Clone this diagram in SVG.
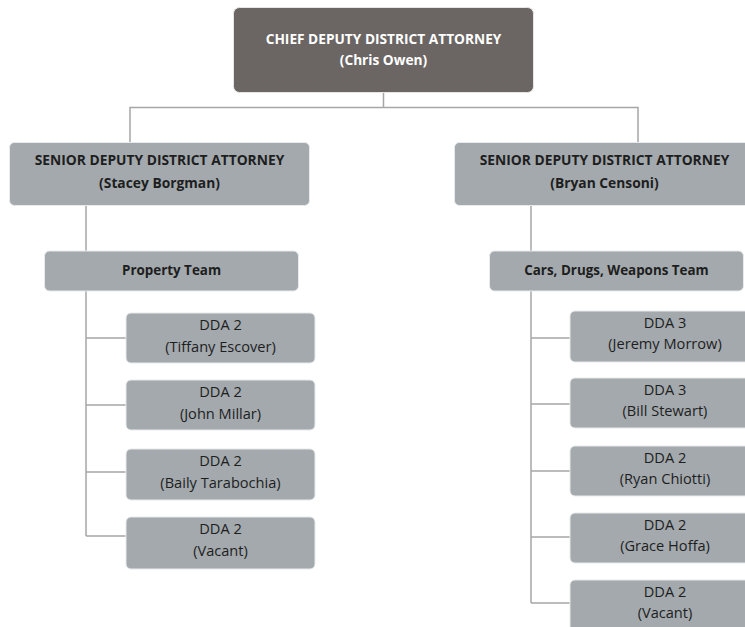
<svg xmlns="http://www.w3.org/2000/svg" width="745" height="627" viewBox="0 0 745 627">
<style>
.bx{fill:#a3a9ad;stroke:#e8eaeb;stroke-width:1}
.top{fill:#6b6664;stroke:#e8e6e5;stroke-width:1}
.ln{fill:none;stroke:#a6a6a6;stroke-width:1.5}
text{font-family:"Open Sans","Liberation Sans",sans-serif;text-anchor:middle}
.h{font-size:13.8px;font-weight:bold;fill:#1e1e1e}
.t{font-size:13.4px;font-weight:bold;fill:#1e1e1e}
.hw{font-size:13.7px;font-weight:bold;fill:#ffffff}
.n{font-size:14.6px;fill:#1e1e1e}
</style>
<rect width="745" height="627" fill="#ffffff"/>
<g id="connectors">
<path class="ln" d="M383.5,92 V107.5 M130,142 V107.5 H638 V142"/>
<path class="ln" d="M86,205 V251 M531,205 V251"/>
<path class="ln" d="M86,291 V536 M86,338 H126 M86,405 H126 M86,472 H126 M86,536 H126"/>
<path class="ln" d="M531,291 V603 M531,338 H570 M531,404 H570 M531,471 H570 M531,537 H570 M531,603 H570"/>
</g>
<g id="chief"><rect class="top" x="233.5" y="7.5" width="300" height="85" rx="6"/><text class="hw" x="383.5" y="44">CHIEF DEPUTY DISTRICT ATTORNEY</text><text class="hw" x="383.5" y="65">(Chris Owen)</text></g>
<g id="senior-left"><rect class="bx" x="9.5" y="142.5" width="300" height="63" rx="5"/><text class="h" x="159.5" y="165">SENIOR DEPUTY DISTRICT ATTORNEY</text><text class="h" x="159.5" y="188">(Stacey Borgman)</text></g>
<g id="senior-right"><rect class="bx" x="454.5" y="142.5" width="300" height="63" rx="5"/><text class="h" x="604.5" y="165">SENIOR DEPUTY DISTRICT ATTORNEY</text><text class="h" x="604.5" y="188">(Bryan Censoni)</text></g>
<g id="property-team"><rect class="bx" x="44.5" y="251" width="254" height="40" rx="5"/><text class="t" x="171.5" y="275">Property Team</text></g>
<g id="cdw-team"><rect class="bx" x="489.5" y="251" width="254" height="40" rx="5"/><text class="t" x="616.5" y="275">Cars, Drugs, Weapons Team</text></g>
<g id="l1"><rect class="bx" x="126" y="313" width="189" height="50" rx="5"/><text class="n" x="220.5" y="330">DDA 2</text><text class="n" x="220.5" y="352">(Tiffany Escover)</text></g>
<g id="l2"><rect class="bx" x="126" y="380" width="189" height="50" rx="5"/><text class="n" x="220.5" y="397">DDA 2</text><text class="n" x="220.5" y="419">(John Millar)</text></g>
<g id="l3"><rect class="bx" x="126" y="449" width="189" height="51" rx="5"/><text class="n" x="220.5" y="466">DDA 2</text><text class="n" x="220.5" y="488">(Baily Tarabochia)</text></g>
<g id="l4"><rect class="bx" x="126" y="517" width="189" height="52" rx="5"/><text class="n" x="220.5" y="534">DDA 2</text><text class="n" x="220.5" y="556">(Vacant)</text></g>
<g id="r1"><rect class="bx" x="570" y="311" width="189" height="51" rx="5"/><text class="n" x="665" y="328">DDA 3</text><text class="n" x="665" y="349">(Jeremy Morrow)</text></g>
<g id="r2"><rect class="bx" x="570" y="378" width="189" height="50" rx="5"/><text class="n" x="665" y="395">DDA 3</text><text class="n" x="665" y="416">(Bill Stewart)</text></g>
<g id="r3"><rect class="bx" x="570" y="446" width="189" height="50" rx="5"/><text class="n" x="665" y="463">DDA 2</text><text class="n" x="665" y="484">(Ryan Chiotti)</text></g>
<g id="r4"><rect class="bx" x="570" y="513" width="189" height="50" rx="5"/><text class="n" x="665" y="530">DDA 2</text><text class="n" x="665" y="551">(Grace Hoffa)</text></g>
<g id="r5"><rect class="bx" x="570" y="580" width="189" height="55" rx="5"/><text class="n" x="665" y="597">DDA 2</text><text class="n" x="665" y="618">(Vacant)</text></g>
</svg>
